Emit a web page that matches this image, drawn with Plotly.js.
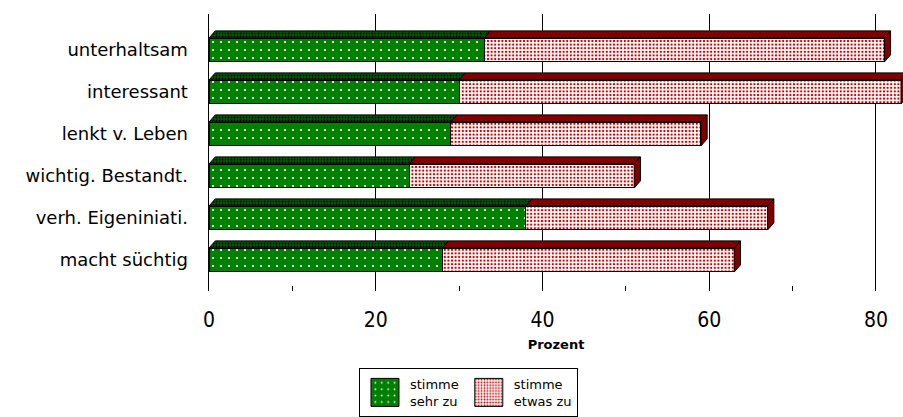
<!DOCTYPE html>
<html>
<head>
<meta charset="utf-8">
<script src="https://cdn.plot.ly/plotly-3.0.1.min.js"></script>
<style>
  html, body { margin: 0; padding: 0; background: #ffffff; }
  #chart { width: 903px; height: 417px; }
</style>
</head>
<body>
<div id="chart"></div>
<script>
// Survey answers, percent of respondents
const categories = ['unterhaltsam', 'interessant', 'lenkt v. Leben', 'wichtig. Bestandt.', 'verh. Eigeniniati.', 'macht süchtig'];
const sehrZu = [33, 30, 29, 24, 38, 28];
const etwasZu = [48, 53, 30, 27, 29, 35];
const seriesNames = ['stimme<br>sehr zu', 'stimme<br>etwas zu'];
const xTicks = [0, 20, 40, 60, 80];
const xMinorTicks = [10, 30, 50, 70];
const axisTitle = 'Prozent';

const pos = categories.map((_, i) => i);
const totals = sehrZu.map((v, i) => v + etwasZu[i]);

// bar thickness and the slanted depth of the 3D look, in axis units
const BAR_W = 0.57;
const DX = 0.75;
const DY = 0.17;
const H = BAR_W / 2;

const FONT = '"DejaVu Sans", "Liberation Sans", sans-serif';
const NUM_FONT = '"Liberation Sans Narrow", "DejaVu Sans Condensed", "DejaVu Sans", sans-serif';

// top face polygons running from start to end value along each bar
function topFaces(starts, ends) {
  const xs = [], ys = [];
  pos.forEach((p, i) => {
    const s = starts[i], e = ends[i], y0 = p - H, y1 = p - H - DY;
    xs.push(s, e, e + DX, s + DX, s, null);
    ys.push(y0, y0, y1, y1, y0, null);
  });
  return { xs, ys };
}
// right-hand side faces at the end of each bar
function sideFaces(ends) {
  const xs = [], ys = [];
  pos.forEach((p, i) => {
    const e = ends[i];
    xs.push(e, e, e + DX, e + DX, e, null);
    ys.push(p - H, p + H, p + H - DY, p - H - DY, p - H, null);
  });
  return { xs, ys };
}

const greenTop = topFaces(pos.map(() => 0), sehrZu);
const redTop = topFaces(sehrZu, totals);
const redSide = sideFaces(totals);

const outline = { color: '#000000', width: 1 };

const traces = [
  {
    type: 'bar', orientation: 'h', y: pos, x: sehrZu, width: BAR_W,
    name: seriesNames[0], hoverinfo: 'skip',
    marker: { color: '#008000', line: outline,
      pattern: { shape: '.', bgcolor: '#008000', fgcolor: '#ffffff', size: 8, solidity: 0.06 } }
  },
  {
    type: 'bar', orientation: 'h', y: pos, x: etwasZu, width: BAR_W,
    name: seriesNames[1], hoverinfo: 'skip',
    marker: { color: '#ffffff', line: outline,
      pattern: { shape: '.', bgcolor: '#ffffff', fgcolor: '#c00000', size: 3.6, solidity: 0.32 } }
  },
  {
    type: 'scatter', mode: 'lines', x: greenTop.xs, y: greenTop.ys, fill: 'toself',
    fillcolor: '#004a00', line: outline, showlegend: false, hoverinfo: 'skip',
    fillpattern: { shape: '.', bgcolor: '#005a00', fgcolor: '#000000', size: 3, solidity: 0.35 }
  },
  {
    type: 'scatter', mode: 'lines', x: redTop.xs, y: redTop.ys, fill: 'toself',
    fillcolor: '#800000', line: outline, showlegend: false, hoverinfo: 'skip'
  },
  {
    type: 'scatter', mode: 'lines', x: redSide.xs, y: redSide.ys, fill: 'toself',
    fillcolor: '#800000', line: outline, showlegend: false, hoverinfo: 'skip'
  }
];

const layout = {
  width: 903, height: 417,
  margin: { l: 209, r: 0, t: 14, b: 126, autoexpand: false },
  paper_bgcolor: '#ffffff', plot_bgcolor: '#ffffff',
  barmode: 'stack',
  showlegend: true,
  xaxis: {
    range: [0, 83.24],
    tickmode: 'array', tickvals: xTicks, ticktext: xTicks.map(String),
    ticks: 'inside', ticklen: 10, tickcolor: '#000000', tickwidth: 1,
    minor: { tickmode: 'array', tickvals: xMinorTicks, ticks: 'inside', ticklen: 5, tickcolor: '#000000', showgrid: false },
    showgrid: true, gridcolor: '#000000', gridwidth: 1,
    zeroline: false, showline: false,
    tickfont: { family: NUM_FONT, size: 21, color: '#000000' },
    ticklabelstandoff: 14,
    title: { text: '<b>' + axisTitle + '</b>', font: { family: FONT, size: 13, color: '#000000' }, standoff: 8 },
    fixedrange: true
  },
  yaxis: {
    range: [5.738, -0.857],
    tickmode: 'array', tickvals: pos, ticktext: categories,
    ticks: '', showgrid: false, zeroline: false,
    showline: true, linecolor: '#000000', linewidth: 1.5,
    tickfont: { family: FONT, size: 18, color: '#000000' },
    ticklabelstandoff: 16,
    fixedrange: true
  },
  legend: {
    orientation: 'h', x: 0.2161, xanchor: 'left', y: -0.278, yanchor: 'top',
    bordercolor: '#000000', borderwidth: 1, bgcolor: '#ffffff',
    font: { family: FONT, size: 13, color: '#000000' },
    traceorder: 'normal', itemwidth: 40
  }
};

Plotly.newPlot('chart', traces, layout, { staticPlot: true, displayModeBar: false }).then(gd => {
  // larger legend swatches
  gd.querySelectorAll('.legend .legendpoints path').forEach(p => p.setAttribute('d', 'M14,14H-14V-14H14Z'));
});
</script>
</body>
</html>
